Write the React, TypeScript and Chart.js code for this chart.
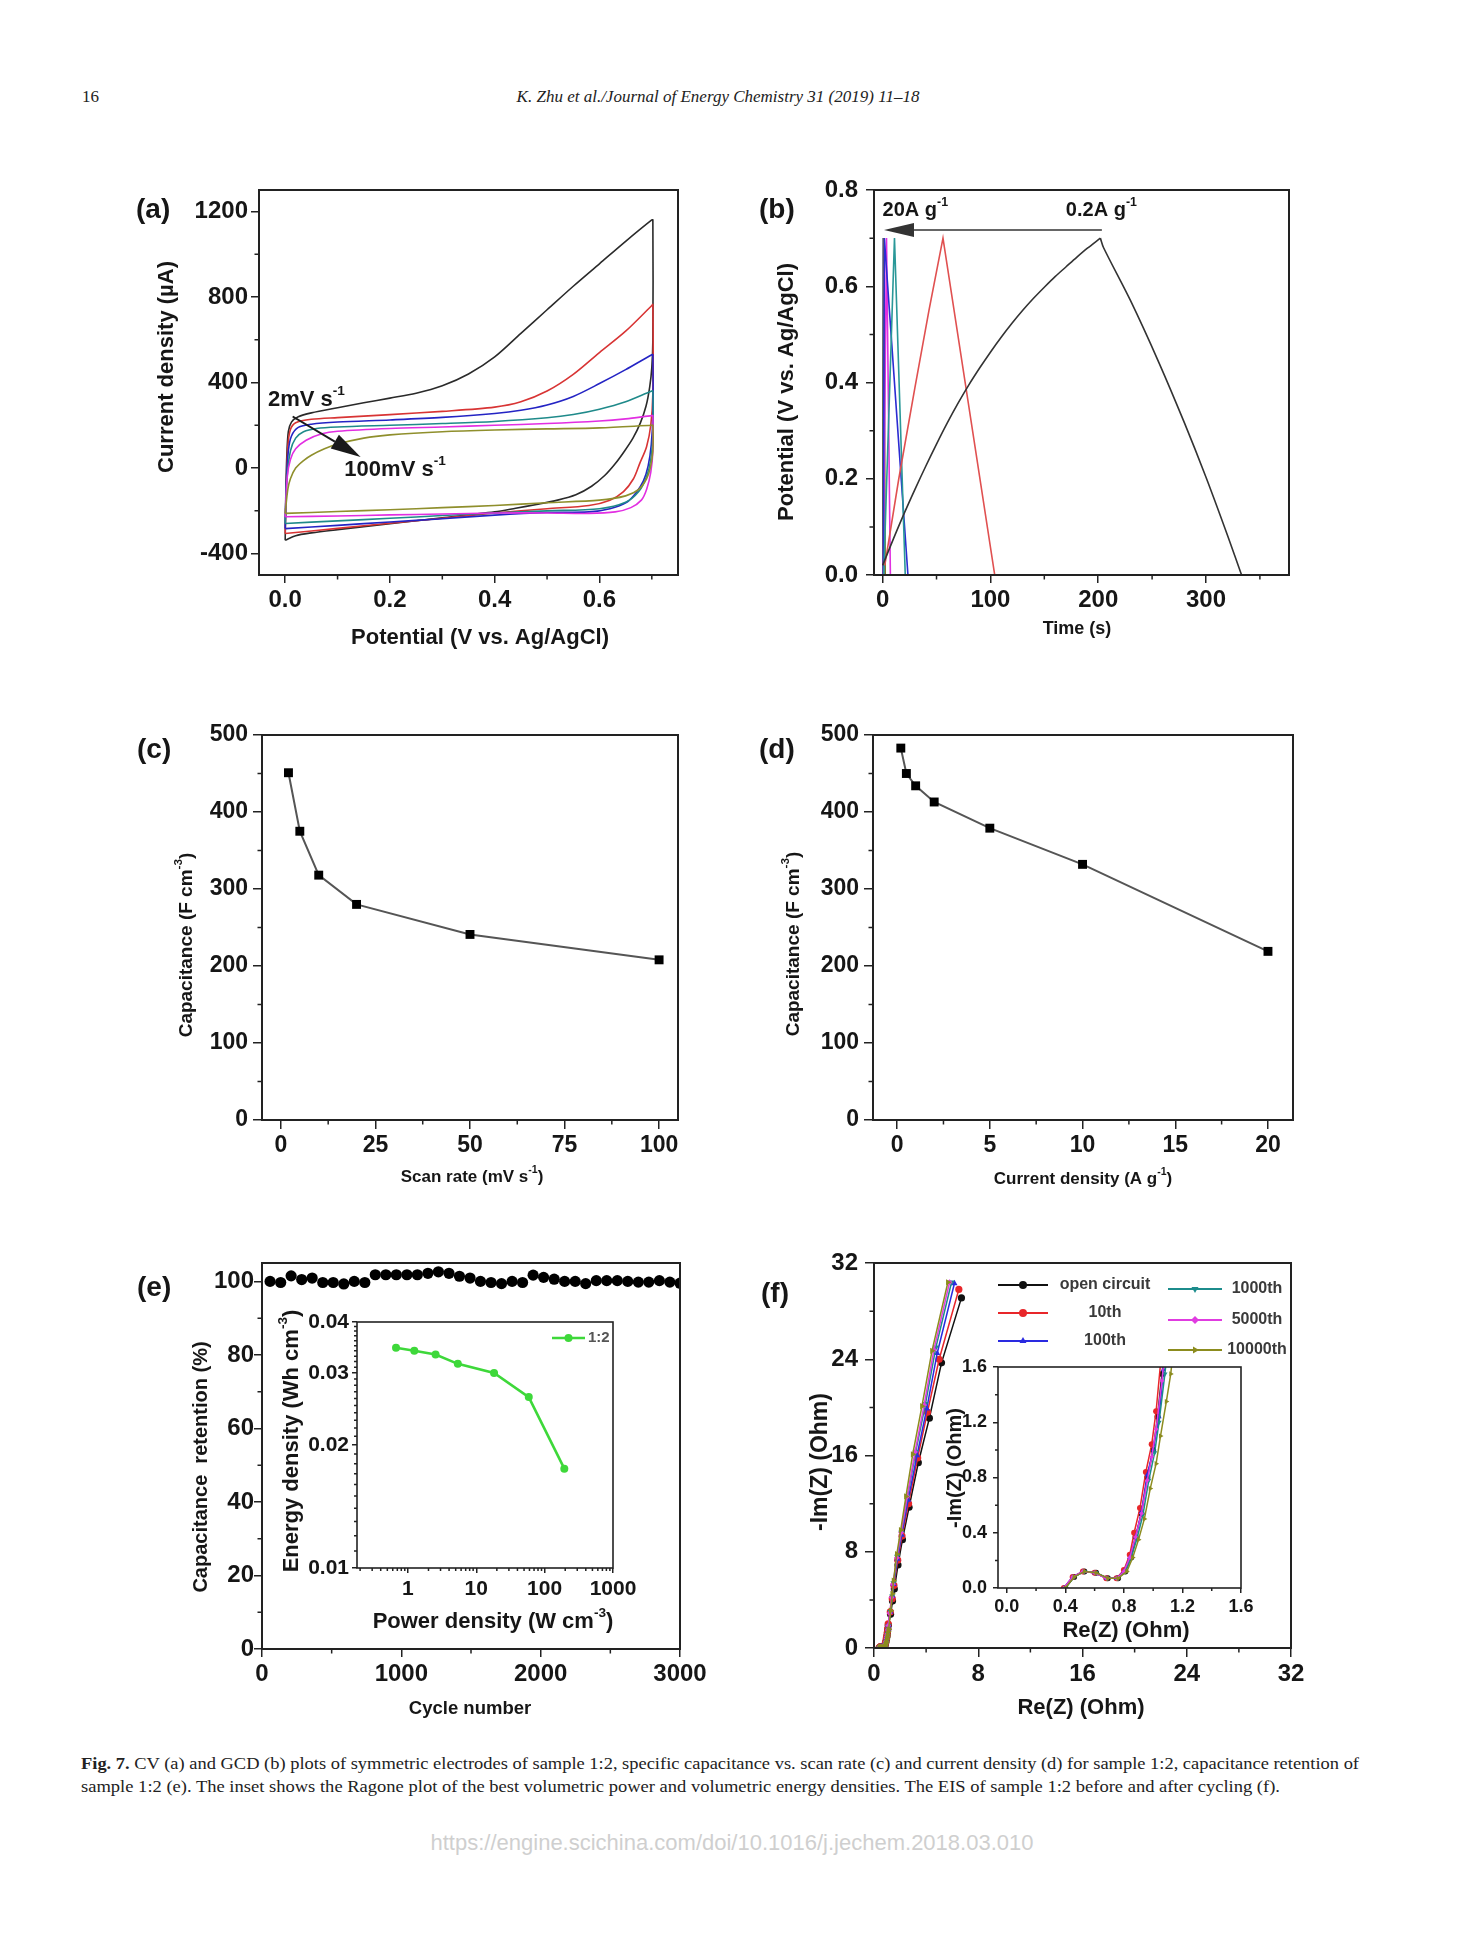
import React, { useEffect, useLayoutEffect, useRef } from 'react';
import { Chart, registerables } from 'chart.js';

Chart.register(...registerables);

const SANS = "'Liberation Sans', Arial, Helvetica, sans-serif";
const SERIF = "'Liberation Serif', 'Times New Roman', Times, serif";
const INK = '#161616';

// ---------------- (a) CV curves [potential V, current µA] ----------------
const cv2mV = [[0,-338],[0.001,-150],[0.003,50],[0.006,170],[0.012,215],[0.025,240],[0.05,258],[0.1,282],[0.15,305],[0.2,327],[0.25,350],[0.3,385],[0.35,440],[0.4,520],[0.45,630],[0.5,740],[0.55,850],[0.6,955],[0.65,1060],[0.7,1160],[0.702,1160],[0.702,600],[0.700,470],[0.696,380],[0.689,290],[0.678,210],[0.664,140],[0.648,80],[0.63,20],[0.61,-35],[0.585,-85],[0.555,-125],[0.52,-150],[0.48,-170],[0.44,-188],[0.4,-205],[0.3,-233],[0.2,-260],[0.1,-288],[0.05,-303],[0.02,-316],[0,-338]];
const cv5mV = [[0,-306],[0.002,-100],[0.005,100],[0.01,180],[0.02,212],[0.05,228],[0.1,236],[0.2,250],[0.3,265],[0.4,285],[0.45,310],[0.5,360],[0.55,438],[0.6,540],[0.65,640],[0.7,760],[0.702,765],[0.702,350],[0.698,200],[0.69,100],[0.677,22],[0.665,-50],[0.646,-110],[0.62,-150],[0.58,-175],[0.5,-190],[0.4,-210],[0.3,-235],[0.2,-258],[0.1,-282],[0,-306]];
const cv10mV = [[0,-283],[0.002,-80],[0.006,80],[0.012,150],[0.025,190],[0.05,205],[0.1,215],[0.2,225],[0.3,237],[0.4,255],[0.45,270],[0.5,295],[0.55,335],[0.6,395],[0.65,460],[0.7,530],[0.702,530],[0.702,250],[0.699,110],[0.693,10],[0.684,-60],[0.67,-115],[0.652,-160],[0.62,-190],[0.58,-205],[0.5,-208],[0.4,-220],[0.3,-237],[0.2,-252],[0.1,-268],[0,-283]];
const cv20mV = [[0,-259],[0.003,-60],[0.01,80],[0.02,140],[0.035,170],[0.06,185],[0.1,192],[0.2,200],[0.3,208],[0.4,218],[0.5,235],[0.55,250],[0.6,275],[0.65,310],[0.7,360],[0.702,360],[0.702,150],[0.698,40],[0.69,-40],[0.675,-110],[0.65,-160],[0.6,-190],[0.5,-200],[0.4,-210],[0.3,-222],[0.2,-235],[0.1,-247],[0,-259]];
const cv50mV = [[0,-228],[0.004,-40],[0.01,40],[0.02,90],[0.04,130],[0.07,160],[0.1,172],[0.2,185],[0.3,192],[0.4,200],[0.5,208],[0.6,220],[0.65,230],[0.7,245],[0.702,245],[0.702,80],[0.698,-20],[0.69,-100],[0.68,-150],[0.66,-185],[0.63,-205],[0.58,-212],[0.5,-210],[0.4,-210],[0.3,-215],[0.2,-219],[0.1,-224],[0,-228]];
const cv100mV = [[0,-212],[0.005,-100],[0.01,-50],[0.02,0],[0.035,35],[0.05,60],[0.075,90],[0.1,112],[0.15,140],[0.2,155],[0.3,170],[0.4,178],[0.5,183],[0.6,188],[0.7,200],[0.702,200],[0.702,80],[0.697,0],[0.69,-50],[0.675,-100],[0.65,-130],[0.6,-150],[0.5,-162],[0.4,-175],[0.3,-185],[0.2,-195],[0.1,-203],[0,-212]];
const cvXTicks = [0, 0.2, 0.4, 0.6];
const cvXMinor = [0.1, 0.3, 0.5, 0.7];
const cvYTicks = [-400, 0, 400, 800, 1200];
const cvYMinor = [-200, 200, 600, 1000];

// ---------------- (b) GCD curves ----------------
const gcd02ChargeT = [0,10,20,30,40,50,60,70,80,90,100,110,120,130,140,150,160,170,180,190,202];
const gcd02ChargeV = [0.02,0.075,0.128,0.178,0.226,0.272,0.316,0.357,0.395,0.43,0.463,0.494,0.523,0.55,0.575,0.598,0.62,0.64,0.66,0.679,0.70];
const gcd02DischargeT = [202,205,230,256,280,300,320,333];
const gcd02DischargeV = [0.70,0.68,0.57,0.443,0.316,0.203,0.082,0];
const gcd05T = [2,15,30,43,56,104];
const gcd05V = [0.02,0.2,0.39,0.55,0.70,0];
const gcd1T = [1,11,21];
const gcd1V = [0,0.70,0];
const gcd2T = [0.6,1.6,23.5];
const gcd2V = [0,0.70,0];
const gcd5T = [0.6,3.6,7.2];
const gcd5V = [0,0.70,0];
const gcd10T = [0.3,1.1,2.4];
const gcd10V = [0,0.70,0];
const gcd20T = [0.2,0.6,1.0];
const gcd20V = [0,0.70,0];
const gcdXTicks = [0, 100, 200, 300];
const gcdXMinor = [50, 150, 250, 350];
const gcdYTicks = [0, 0.2, 0.4, 0.6, 0.8];
const gcdYMinor = [0.1, 0.3, 0.5, 0.7];

// ---------------- (c) capacitance vs scan rate ----------------
const scanRate = [2, 5, 10, 20, 50, 100];
const capScan = [451, 375, 318, 280, 241, 208];
const scanXTicks = [0, 25, 50, 75, 100];
const scanXMinor = [12.5, 37.5, 62.5, 87.5];
const capYTicks = [0, 100, 200, 300, 400, 500];
const capYMinor = [50, 150, 250, 350, 450];

// ---------------- (d) capacitance vs current density ----------------
const currDens = [0.2, 0.5, 1, 2, 5, 10, 20];
const capCurr = [483, 450, 434, 413, 379, 332, 219];
const currXTicks = [0, 5, 10, 15, 20];
const currXMinor = [2.5, 7.5, 12.5, 17.5];

// ---------------- (e) cycling + Ragone inset ----------------
const cycles = [58,134,209,285,360,436,511,587,662,738,813,889,964,1040,1115,1191,1266,1342,1417,1493,1568,1644,1719,1795,1870,1946,2021,2097,2172,2248,2323,2399,2474,2550,2625,2701,2776,2852,2927,3000];
const retention = [100,99.7,101.5,100.5,100.9,99.7,99.7,99.3,100,99.7,101.8,101.8,101.8,101.8,101.8,102.2,102.6,102.2,101.4,100.9,100,99.7,99.4,100,99.7,101.7,101.1,100.6,100,100,99.4,100.2,100.2,100.2,100,99.8,99.8,100.2,99.8,99.5];
const cycXTicks = [0, 1000, 2000, 3000];
const cycXMinor = [500, 1500, 2500];
const retYTicks = [0, 20, 40, 60, 80, 100];
const retYMinor = [10, 30, 50, 70, 90];
const powerDens = [0.67, 1.24, 2.54, 5.37, 18.2, 58.6, 194];
const energyDens = [0.0346, 0.034, 0.0333, 0.0316, 0.030, 0.0262, 0.0175];
const ragXTicks = [1, 10, 100, 1000];
const ragXMinor = [0.2,0.3,0.4,0.5,0.6,0.7,0.8,0.9,2,3,4,5,6,7,8,9,20,30,40,50,60,70,80,90,200,300,400,500,600,700,800,900];
const ragYTicks = [0.01, 0.02, 0.03, 0.04];
const ragYMinor = [0.011,0.012,0.013,0.014,0.015,0.016,0.017,0.018,0.019,0.021,0.022,0.023,0.024,0.025,0.026,0.027,0.028,0.029,0.031,0.032,0.033,0.034,0.035,0.036,0.037,0.038,0.039];

// ---------------- (f) EIS ----------------
const eisNames = ['open circuit', '10th', '100th', '1000th', '5000th', '10000th'];
const eisOC_X = [0.40,0.46,0.53,0.61,0.69,0.76,0.81,0.85,0.88,0.92,0.96,1.00,1.03,1.06,1.10,1.27,1.42,1.56,1.84,2.18,2.69,3.40,4.25,5.18,6.71];
const eisOC_Y = [0,0.08,0.12,0.11,0.07,0.07,0.12,0.22,0.37,0.54,0.80,1.00,1.24,1.55,1.90,2.80,3.90,4.90,6.90,9.00,11.7,15.4,19.1,23.7,29.1];
const eis10_X = [0.39,0.45,0.52,0.60,0.68,0.75,0.80,0.84,0.87,0.91,0.95,0.99,1.02,1.05,1.09,1.25,1.40,1.53,1.82,2.15,2.65,3.35,4.10,5.00,6.51];
const eis10_Y = [0,0.08,0.12,0.11,0.07,0.07,0.13,0.24,0.40,0.58,0.84,1.04,1.28,1.62,2.0,3.0,4.1,5.2,7.3,9.3,12.0,15.8,19.6,24.0,29.8];
const eis100_X = [0.39,0.45,0.52,0.60,0.68,0.75,0.80,0.84,0.88,0.92,0.96,1.00,1.04,1.07,1.10,1.25,1.40,1.50,1.80,2.12,2.62,3.30,4.05,4.85,6.17];
const eis100_Y = [0,0.08,0.12,0.11,0.07,0.07,0.12,0.22,0.37,0.55,0.82,1.00,1.24,1.58,1.9,3.0,4.3,5.3,7.4,9.4,12.3,16.0,19.9,24.5,30.3];
const eis1000_X = [0.40,0.46,0.53,0.61,0.69,0.76,0.81,0.85,0.89,0.93,0.97,1.01,1.04,1.08,1.11,1.26,1.40,1.50,1.78,2.10,2.58,3.20,3.95,4.75,5.95];
const eis1000_Y = [0,0.08,0.12,0.11,0.07,0.07,0.12,0.22,0.36,0.53,0.78,0.98,1.20,1.55,1.85,3.0,4.3,5.4,7.6,9.6,12.6,16.3,20.3,25.0,30.4];
const eis5000_X = [0.39,0.45,0.52,0.60,0.68,0.75,0.80,0.84,0.88,0.92,0.96,0.99,1.02,1.06,1.09,1.20,1.35,1.45,1.75,2.08,2.55,3.15,3.85,4.60,5.80];
const eis5000_Y = [0,0.08,0.12,0.11,0.07,0.07,0.12,0.22,0.37,0.54,0.78,0.95,1.15,1.50,1.85,2.9,4.2,5.3,7.5,9.6,12.6,16.3,20.2,24.8,30.4];
const eis10000_X = [0.40,0.46,0.53,0.61,0.69,0.76,0.82,0.86,0.90,0.94,0.98,1.02,1.05,1.09,1.12,1.28,1.40,1.50,1.75,2.05,2.45,2.97,3.68,4.45,5.67];
const eis10000_Y = [0,0.08,0.12,0.11,0.07,0.07,0.12,0.22,0.35,0.50,0.72,0.90,1.10,1.35,1.55,3.1,4.5,5.6,7.8,9.8,12.6,16.1,20.1,24.7,30.4];
const eisTicks = [0, 8, 16, 24, 32];
const eisMinor = [4, 12, 20, 28];
const eisInsetTicks = [0, 0.4, 0.8, 1.2, 1.6];
const eisInsetMinor = [0.2, 0.6, 1.0, 1.4];

// ---------------- helpers ----------------
const pairs = (p: number[][]) => p.map(([x, y]) => ({ x, y }));
const zip = (xs: number[], ys: number[]) => xs.map((x, i) => ({ x, y: ys[i] }));

function drawRich(ctx: any, segs: any[], x: number, y: number, size: number, opt: any = {}) {
  const weight = opt.weight || 'bold';
  const k = 0.62;
  ctx.save();
  ctx.translate(x, y);
  if (opt.rotate) ctx.rotate(opt.rotate);
  ctx.textBaseline = 'middle';
  ctx.textAlign = 'left';
  ctx.fillStyle = opt.color || INK;
  const widths = segs.map(([t, sup]: any) => {
    ctx.font = `${weight} ${sup ? size * k : size}px ${SANS}`;
    return ctx.measureText(t).width;
  });
  const total = widths.reduce((a: number, b: number) => a + b, 0);
  let cx = opt.align === 'left' ? 0 : -total / 2;
  segs.forEach(([t, sup]: any, i: number) => {
    ctx.font = `${weight} ${sup ? size * k : size}px ${SANS}`;
    ctx.fillText(t, cx, sup ? -size * 0.42 : 0);
    cx += widths[i];
  });
  ctx.restore();
}

function arrow(ctx: any, x1: number, y1: number, x2: number, y2: number, hl: number, hw: number, color: string, lw: number) {
  const a = Math.atan2(y2 - y1, x2 - x1);
  const bx = x2 - hl * Math.cos(a), by = y2 - hl * Math.sin(a);
  ctx.save();
  ctx.strokeStyle = color; ctx.fillStyle = color; ctx.lineWidth = lw;
  ctx.beginPath(); ctx.moveTo(x1, y1); ctx.lineTo(bx, by); ctx.stroke();
  ctx.beginPath(); ctx.moveTo(x2, y2);
  ctx.lineTo(bx + hw * Math.sin(a), by - hw * Math.cos(a));
  ctx.lineTo(bx - hw * Math.sin(a), by + hw * Math.cos(a));
  ctx.closePath(); ctx.fill();
  ctx.restore();
}

function marker(ctx: any, style: string, x: number, y: number, r: number, color: string) {
  ctx.fillStyle = color;
  ctx.beginPath();
  if (style === 'circle') ctx.arc(x, y, r, 0, Math.PI * 2);
  else if (style === 'up') { ctx.moveTo(x, y - r); ctx.lineTo(x + r * 0.87, y + r * 0.5); ctx.lineTo(x - r * 0.87, y + r * 0.5); }
  else if (style === 'down') { ctx.moveTo(x, y + r); ctx.lineTo(x + r * 0.87, y - r * 0.5); ctx.lineTo(x - r * 0.87, y - r * 0.5); }
  else if (style === 'right') { ctx.moveTo(x + r, y); ctx.lineTo(x - r * 0.5, y - r * 0.87); ctx.lineTo(x - r * 0.5, y + r * 0.87); }
  else { ctx.moveTo(x, y - r); ctx.lineTo(x + r, y); ctx.lineTo(x, y + r); ctx.lineTo(x - r, y); }
  ctx.closePath();
  ctx.fill();
}

function decor(rect: any, spec: any) {
  return {
    id: 'decor',
    afterDraw(chart: any) {
      const ctx = chart.ctx, a = chart.chartArea, sx = chart.scales.x, sy = chart.scales.y;
      const P = (x: number, y: number) => [x - rect.x, y - rect.y];
      ctx.save();
      ctx.strokeStyle = '#222';
      ctx.lineWidth = spec.frame || 2;
      ctx.strokeRect(a.left, a.top, a.right - a.left, a.bottom - a.top);
      ctx.lineWidth = 1.5;
      ctx.beginPath();
      const ml = spec.minorLen || 4.5;
      for (const v of spec.minorX || []) { const p = sx.getPixelForValue(v); ctx.moveTo(p, a.bottom); ctx.lineTo(p, a.bottom + ml); }
      for (const v of spec.minorY || []) { const p = sy.getPixelForValue(v); ctx.moveTo(a.left, p); ctx.lineTo(a.left - ml, p); }
      ctx.stroke();
      for (const t of spec.texts || []) {
        let x, y;
        if (t.data) { x = sx.getPixelForValue(t.x); y = sy.getPixelForValue(t.y); }
        else { [x, y] = P(t.x, t.y); }
        drawRich(ctx, t.segs, x, y, t.size, t);
      }
      for (const ar of spec.arrows || []) {
        arrow(ctx, sx.getPixelForValue(ar.x1), sy.getPixelForValue(ar.y1), sx.getPixelForValue(ar.x2), sy.getPixelForValue(ar.y2), ar.hl, ar.hw, ar.color || '#1a1a1a', ar.lw || 2);
      }
      if (spec.extra) spec.extra(ctx, P);
      ctx.restore();
    },
  };
}

function axis(o: any) {
  return {
    type: o.type || 'linear',
    min: o.min,
    max: o.max,
    bounds: 'data',
    afterBuildTicks: (s: any) => { s.ticks = o.majors.map((v: number) => ({ value: v })); },
    ticks: {
      callback: (v: any) => o.fmt(Number(v)),
      font: { family: SANS, size: o.size || 24, weight: 'bold' },
      color: INK,
      padding: o.pad === undefined ? 3 : o.pad,
      maxRotation: 0,
      minRotation: 0,
      autoSkip: false,
    },
    grid: { display: true, drawOnChartArea: false, drawTicks: true, tickLength: o.tick || 8, color: '#222', lineWidth: 1.5 },
    border: { display: false },
    title: { display: false },
  };
}

function makeConfig(rect: any, box: any, datasets: any[], xs: any, ys: any, spec: any) {
  return {
    type: 'scatter',
    data: { datasets },
    options: {
      animation: false,
      responsive: false,
      devicePixelRatio: 1,
      events: [],
      layout: { padding: { left: 0, bottom: 0, top: box.T - rect.y, right: rect.x + rect.w - box.R } },
      plugins: { legend: { display: false }, tooltip: { enabled: false }, title: { display: false } },
      scales: {
        x: { ...xs, afterFit: (s: any) => { s.height = rect.y + rect.h - box.B; } },
        y: { ...ys, afterFit: (s: any) => { s.width = box.L - rect.x; } },
      },
    },
    plugins: [decor(rect, spec)],
  };
}

function ChartBox({ rect, make }: any) {
  const ref = useRef<HTMLCanvasElement>(null);
  useEffect(() => {
    const chart = new Chart(ref.current as any, make() as any);
    return () => chart.destroy();
  }, []);
  return (
    <canvas
      ref={ref}
      width={rect.w}
      height={rect.h}
      style={{ position: 'absolute', left: rect.x, top: rect.y, width: rect.w, height: rect.h }}
    />
  );
}

// a single text line condensed/stretched to a fixed width (the journal font is condensed)
function FitLine({ left, top, width, size, children }: any) {
  const ref = useRef<HTMLSpanElement>(null);
  useLayoutEffect(() => {
    const el = ref.current;
    if (!el) return;
    el.style.transform = 'none';
    const w = el.getBoundingClientRect().width;
    if (w > 0) el.style.transform = `scaleX(${width / w})`;
  }, []);
  return (
    <span
      ref={ref}
      style={{ position: 'absolute', left, top, whiteSpace: 'nowrap', transformOrigin: '0 0', fontFamily: SERIF, fontSize: size, lineHeight: '23px', color: '#222' }}
    >
      {children}
    </span>
  );
}

const f1 = (v: number) => v.toFixed(1);
const f0 = (v: number) => String(Math.round(v));
const f2 = (v: number) => v.toFixed(2);
const flog = (v: number) => String(v);

const curve = (data: any[], color: string, extra: any = {}) => ({
  data, showLine: true, borderColor: color, backgroundColor: color, borderWidth: 1.6, pointRadius: 0, tension: 0, ...extra,
});

// ---------------- panel configs ----------------
const rA = { x: 120, y: 150, w: 600, h: 510 };
const bA = { L: 259, T: 190, R: 678, B: 575 };
const smooth = { tension: 0.3 };
const makeA = () => makeConfig(rA, bA, [
  curve(pairs(cv100mV), '#8f8f2c', smooth),
  curve(pairs(cv50mV), '#e22ee2', smooth),
  curve(pairs(cv20mV), '#1f8a8a', smooth),
  curve(pairs(cv10mV), '#2424c4', smooth),
  curve(pairs(cv5mV), '#d83434', smooth),
  curve(pairs(cv2mV), '#2a2a2a', smooth),
],
  axis({ min: -0.05, max: 0.75, majors: cvXTicks, fmt: f1, size: 24 }),
  axis({ min: -500, max: 1300, majors: cvYTicks, fmt: f0, size: 24 }),
  {
    minorX: cvXMinor, minorY: cvYMinor,
    texts: [
      { data: true, x: -0.033, y: 317, segs: [['2mV s'], ['-1', true]], size: 22, align: 'left' },
      { data: true, x: 0.113, y: -10, segs: [['100mV s'], ['-1', true]], size: 22, align: 'left' },
      { x: 167, y: 367, segs: [['Current density (µA)']], size: 22, rotate: -Math.PI / 2 },
      { x: 480, y: 638, segs: [['Potential (V vs. Ag/AgCl)']], size: 22 },
    ],
    arrows: [{ x1: 0.0143, y1: 241, x2: 0.144, y2: 52, hl: 30, hw: 8, lw: 2 }],
  });

const rB = { x: 745, y: 150, w: 580, h: 510 };
const bB = { L: 874, T: 190, R: 1289, B: 575 };
const makeB = () => makeConfig(rB, bB, [
  curve(zip(gcd02ChargeT, gcd02ChargeV), '#333333', smooth),
  curve(zip(gcd02DischargeT, gcd02DischargeV), '#333333', smooth),
  curve(zip(gcd05T, gcd05V), '#e05050'),
  curve(zip(gcd1T, gcd1V), '#2a9898'),
  curve(zip(gcd2T, gcd2V), '#2b2bd2'),
  curve(zip(gcd5T, gcd5V), '#e030e0'),
  curve(zip(gcd10T, gcd10V), '#7a7a22'),
  curve(zip(gcd20T, gcd20V), '#22225e'),
],
  axis({ min: -8, max: 377, majors: gcdXTicks, fmt: f0, size: 24 }),
  axis({ min: 0, max: 0.8, majors: gcdYTicks, fmt: f1, size: 24, pad: 8 }),
  {
    minorX: gcdXMinor, minorY: gcdYMinor,
    texts: [
      { data: true, x: 0, y: 0.757, segs: [['20A g'], ['-1', true]], size: 20, align: 'left' },
      { data: true, x: 170, y: 0.757, segs: [['0.2A g'], ['-1', true]], size: 20, align: 'left' },
      { x: 787, y: 392, segs: [['Potential (V vs. Ag/AgCl)']], size: 22, rotate: -Math.PI / 2 },
      { x: 1077, y: 629, segs: [['Time (s)']], size: 18 },
    ],
    arrows: [{ x1: 203.4, y1: 0.717, x2: 1.3, y2: 0.717, hl: 30, hw: 7, lw: 1.6, color: '#333' }],
  });

const capSeries = (xs: number[], ys: number[]) => ({
  data: zip(xs, ys), showLine: true, borderColor: '#555', borderWidth: 2, tension: 0,
  pointStyle: 'rect', pointRadius: 6.3, pointBackgroundColor: '#000', pointBorderColor: '#000', pointBorderWidth: 0,
});

const rC = { x: 120, y: 700, w: 600, h: 510 };
const bC = { L: 262, T: 735, R: 678, B: 1120 };
const makeC = () => makeConfig(rC, bC, [capSeries(scanRate, capScan)],
  axis({ min: -5, max: 105, majors: scanXTicks, fmt: f0, size: 23, tick: 9 }),
  axis({ min: 0, max: 500, majors: capYTicks, fmt: f0, size: 23, tick: 9, pad: 5 }),
  {
    minorX: scanXMinor, minorY: capYMinor,
    texts: [
      { x: 187, y: 945, segs: [['Capacitance (F cm'], ['-3', true], [')']], size: 19, rotate: -Math.PI / 2 },
      { x: 472, y: 1177, segs: [['Scan rate (mV s'], ['-1', true], [')']], size: 17 },
    ],
  });

const rD = { x: 745, y: 700, w: 590, h: 510 };
const bD = { L: 873, T: 735, R: 1293, B: 1120 };
const makeD = () => makeConfig(rD, bD, [capSeries(currDens, capCurr)],
  axis({ min: -1.3, max: 21.35, majors: currXTicks, fmt: f0, size: 23, tick: 9 }),
  axis({ min: 0, max: 500, majors: capYTicks, fmt: f0, size: 23, tick: 9, pad: 5 }),
  {
    minorX: currXMinor, minorY: capYMinor,
    texts: [
      { x: 794, y: 944, segs: [['Capacitance (F cm'], ['-3', true], [')']], size: 19, rotate: -Math.PI / 2 },
      { x: 1083, y: 1179, segs: [['Current density (A g'], ['-1', true], [')']], size: 17 },
    ],
  });

const rE = { x: 120, y: 1225, w: 600, h: 510 };
const bE = { L: 262, T: 1263, R: 680, B: 1649 };
const makeE = () => makeConfig(rE, bE, [{
  data: zip(cycles, retention), showLine: false, pointRadius: 5.6, pointBackgroundColor: '#000', pointBorderWidth: 0,
}],
  axis({ min: 0, max: 3000, majors: cycXTicks, fmt: f0, size: 24 }),
  axis({ min: 0, max: 105, majors: retYTicks, fmt: f0, size: 24, pad: 0 }),
  {
    minorX: cycXMinor, minorY: retYMinor,
    texts: [
      { x: 201, y: 1467, segs: [['Capacitance  retention (%)']], size: 20, rotate: -Math.PI / 2 },
      { x: 470, y: 1709, segs: [['Cycle number']], size: 18.5 },
    ],
  });

const GREEN = '#3ed83a';
const rEi = { x: 270, y: 1300, w: 375, h: 345 };
const bEi = { L: 357, T: 1322, R: 613, B: 1568 };
const makeEi = () => makeConfig(rEi, bEi, [{
  data: zip(powerDens, energyDens), showLine: true, borderColor: GREEN, borderWidth: 2.6, tension: 0,
  pointRadius: 4, pointBackgroundColor: GREEN, pointBorderWidth: 0,
}],
  axis({ type: 'logarithmic', min: 0.18, max: 1000, majors: ragXTicks, fmt: flog, size: 21, tick: 5, pad: 4 }),
  axis({ type: 'logarithmic', min: 0.01, max: 0.04, majors: ragYTicks, fmt: f2, size: 21, tick: 5, pad: 3 }),
  {
    frame: 1.6, minorLen: 3, minorX: ragXMinor, minorY: ragYMinor,
    texts: [
      { x: 292, y: 1441, segs: [['Energy density (Wh cm'], ['-3', true], [')']], size: 22, rotate: -Math.PI / 2 },
      { x: 493, y: 1622, segs: [['Power density (W cm'], ['-3', true], [')']], size: 22 },
      { x: 588, y: 1338, segs: [['1:2']], size: 15, align: 'left', color: '#555' },
    ],
    extra: (ctx: any, P: any) => {
      const [x1, y] = P(552, 1338);
      const [x2] = P(585, 1338);
      ctx.strokeStyle = GREEN; ctx.lineWidth = 2.6;
      ctx.beginPath(); ctx.moveTo(x1, y); ctx.lineTo(x2, y); ctx.stroke();
      marker(ctx, 'circle', (x1 + x2) / 2, y, 4, GREEN);
    },
  });

const eisColors = ['#111111', '#e8262a', '#2a2ae0', '#1c8c8c', '#e03ce0', '#8c8c1e'];
const eisMarkers = ['circle', 'circle', 'up', 'down', 'diamond', 'right'];
const eisX = [eisOC_X, eis10_X, eis100_X, eis1000_X, eis5000_X, eis10000_X];
const eisY = [eisOC_Y, eis10_Y, eis100_Y, eis1000_Y, eis5000_Y, eis10000_Y];
const styleMap: any = { circle: ['circle', 0], up: ['triangle', 0], down: ['triangle', 180], right: ['triangle', 90], diamond: ['rectRot', 0] };
const eisDatasets = (r: number) => eisX.map((xs, i) => ({
  data: zip(xs, eisY[i]), showLine: true, borderColor: eisColors[i], borderWidth: 1.5, tension: 0,
  pointStyle: styleMap[eisMarkers[i]][0], pointRotation: styleMap[eisMarkers[i]][1],
  pointRadius: eisMarkers[i] === 'diamond' ? r * 0.8 : r, pointBackgroundColor: eisColors[i], pointBorderWidth: 0,
})).reverse();

const legendPos = [
  { lx: 998, rx: 1048, tx: 1105, y: 1285 },
  { lx: 998, rx: 1048, tx: 1105, y: 1313 },
  { lx: 998, rx: 1048, tx: 1105, y: 1341 },
  { lx: 1168, rx: 1222, tx: 1257, y: 1289 },
  { lx: 1168, rx: 1222, tx: 1257, y: 1320 },
  { lx: 1168, rx: 1222, tx: 1257, y: 1350 },
];

const rF = { x: 745, y: 1225, w: 590, h: 510 };
const bF = { L: 874, T: 1263, R: 1291, B: 1648 };
const makeF = () => makeConfig(rF, bF, eisDatasets(3.6),
  axis({ min: 0, max: 32, majors: eisTicks, fmt: f0, size: 24, tick: 9 }),
  axis({ min: 0, max: 32, majors: eisTicks, fmt: f0, size: 24, tick: 9, pad: 7 }),
  {
    minorX: eisMinor, minorY: eisMinor,
    texts: [
      { x: 821, y: 1462, segs: [['-Im(Z) (Ohm)']], size: 23, rotate: -Math.PI / 2 },
      { x: 1081, y: 1708, segs: [['Re(Z) (Ohm)']], size: 22 },
    ],
    extra: (ctx: any, P: any) => {
      legendPos.forEach((p, i) => {
        const [x1, y] = P(p.lx, p.y);
        const [x2] = P(p.rx, p.y);
        const [tx] = P(p.tx, p.y);
        ctx.strokeStyle = eisColors[i]; ctx.lineWidth = 2;
        ctx.beginPath(); ctx.moveTo(x1, y); ctx.lineTo(x2, y); ctx.stroke();
        marker(ctx, eisMarkers[i], (x1 + x2) / 2, y, 4, eisColors[i]);
        drawRich(ctx, [[eisNames[i]]], tx, y, 16, { color: '#3a3a3a' });
      });
    },
  });

const rFi = { x: 930, y: 1340, w: 340, h: 306 };
const bFi = { L: 998, T: 1367, R: 1241, B: 1588 };
const makeFi = () => makeConfig(rFi, bFi, eisDatasets(3),
  axis({ min: -0.06, max: 1.6, majors: eisInsetTicks, fmt: f1, size: 18, tick: 5, pad: 3 }),
  axis({ min: 0, max: 1.6, majors: eisInsetTicks, fmt: f1, size: 18, tick: 5, pad: 6 }),
  {
    frame: 1.6, minorLen: 3, minorX: eisInsetMinor, minorY: eisInsetMinor,
    texts: [
      { x: 955, y: 1468, segs: [['-Im(Z) (Ohm)']], size: 20, rotate: -Math.PI / 2 },
      { x: 1126, y: 1631, segs: [['Re(Z) (Ohm)']], size: 22 },
    ],
  });

const panelLabels = [
  { t: '(a)', x: 136, y: 209 },
  { t: '(b)', x: 759, y: 209 },
  { t: '(c)', x: 137, y: 749 },
  { t: '(d)', x: 759, y: 749 },
  { t: '(e)', x: 137, y: 1287 },
  { t: '(f)', x: 761, y: 1293 },
];

export default function App() {
  return (
    <div style={{ position: 'absolute', left: 0, top: 0, width: 1461, height: 1950, background: '#fff', overflow: 'hidden' }}>
      <div style={{ position: 'absolute', left: 82, top: 86, fontFamily: SERIF, fontSize: 17, lineHeight: '22px', color: '#222' }}>16</div>
      <div style={{ position: 'absolute', left: 718, top: 86, transform: 'translateX(-50%)', whiteSpace: 'nowrap', fontFamily: SERIF, fontStyle: 'italic', fontSize: 17, lineHeight: '22px', color: '#222' }}>
        K. Zhu et al./Journal of Energy Chemistry 31 (2019) 11–18
      </div>

      <ChartBox rect={rA} make={makeA} />
      <ChartBox rect={rB} make={makeB} />
      <ChartBox rect={rC} make={makeC} />
      <ChartBox rect={rD} make={makeD} />
      <ChartBox rect={rE} make={makeE} />
      <ChartBox rect={rEi} make={makeEi} />
      <ChartBox rect={rF} make={makeF} />
      <ChartBox rect={rFi} make={makeFi} />

      {panelLabels.map((p) => (
        <div key={p.t} style={{ position: 'absolute', left: p.x, top: p.y, transform: 'translateY(-50%)', fontFamily: SANS, fontWeight: 'bold', fontSize: 28, lineHeight: 1, color: INK }}>
          {p.t}
        </div>
      ))}

      <FitLine left={81} top={1752} width={1278} size={17.5}>
        <b>Fig. 7.</b> CV (a) and GCD (b) plots of symmetric electrodes of sample 1:2, specific capacitance vs. scan rate (c) and current density (d) for sample 1:2, capacitance retention of
      </FitLine>
      <FitLine left={81} top={1775} width={1199} size={17.5}>
        sample 1:2 (e). The inset shows the Ragone plot of the best volumetric power and volumetric energy densities. The EIS of sample 1:2 before and after cycling (f).
      </FitLine>

      <div style={{ position: 'absolute', left: 732, top: 1830, transform: 'translateX(-50%)', whiteSpace: 'nowrap', fontFamily: SANS, fontSize: 22, lineHeight: '26px', color: '#cfcfcf' }}>
        https://engine.scichina.com/doi/10.1016/j.jechem.2018.03.010
      </div>
    </div>
  );
}
